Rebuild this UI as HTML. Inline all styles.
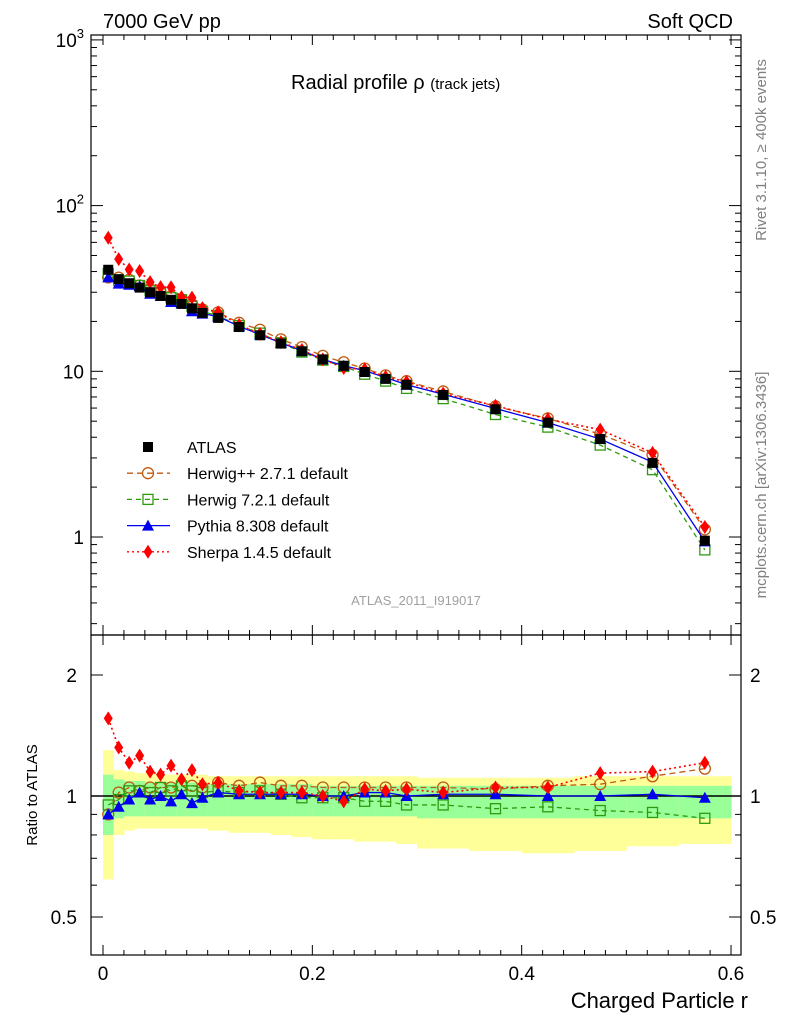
<!DOCTYPE html>
<html><head><meta charset="utf-8"><style>
body{margin:0;background:#fff}
svg{display:block;font-family:"Liberation Sans",sans-serif}
</style></head><body>
<svg id="c" width="786" height="1024" viewBox="0 0 786 1024"></svg>
<script>
const edges=[0,0.01,0.02,0.03,0.04,0.05,0.06,0.07,0.08,0.09,0.1,0.12,0.14,0.16,0.18,0.2,0.22,0.24,0.26,0.28,0.3,0.35,0.4,0.45,0.5,0.55,0.6];
const atlas=[41,36,34,32,30,28.5,27,25.5,24,22.5,21,18.5,16.5,14.7,13.2,11.8,10.8,9.9,9.0,8.3,7.2,5.9,4.9,3.9,2.8,0.95];
const rHerwigpp=[0.90,1.02,1.05,1.03,1.05,1.05,1.05,1.06,1.06,1.05,1.08,1.06,1.08,1.06,1.06,1.05,1.05,1.05,1.05,1.05,1.05,1.04,1.06,1.07,1.12,1.17];
const rHerwig7=[0.95,0.98,1.03,1.03,1.02,1.05,1.03,1.06,1.03,1.02,1.03,1.02,1.03,1.01,0.99,0.99,0.99,0.97,0.97,0.95,0.95,0.93,0.94,0.92,0.91,0.88];
const rPythia=[0.90,0.94,0.98,1.02,0.98,1.0,0.97,1.01,0.96,0.99,1.02,1.01,1.01,1.01,1.01,1.0,1.0,1.02,1.02,1.0,1.01,1.01,1.0,1.0,1.01,0.99];
const rSherpa=[1.56,1.32,1.21,1.26,1.15,1.13,1.19,1.10,1.16,1.07,1.08,1.03,1.02,1.02,1.02,1.0,0.97,1.04,1.03,1.04,1.02,1.05,1.05,1.14,1.15,1.21];
const greenHi=[1.13,1.10,1.09,1.09,1.08,1.08,1.08,1.08,1.08,1.08,1.07,1.07,1.07,1.07,1.07,1.06,1.06,1.06,1.06,1.06,1.06,1.06,1.06,1.06,1.06,1.06];
const greenLo=[0.80,0.88,0.89,0.89,0.89,0.89,0.89,0.89,0.89,0.89,0.89,0.89,0.89,0.89,0.89,0.89,0.89,0.89,0.89,0.89,0.88,0.88,0.88,0.88,0.88,0.88];
const yellowHi=[1.30,1.16,1.15,1.14,1.14,1.13,1.13,1.13,1.13,1.13,1.12,1.12,1.12,1.12,1.12,1.12,1.12,1.12,1.12,1.12,1.11,1.11,1.11,1.12,1.12,1.12];
const yellowLo=[0.62,0.80,0.82,0.83,0.83,0.83,0.83,0.83,0.83,0.83,0.82,0.81,0.81,0.80,0.79,0.78,0.78,0.77,0.77,0.76,0.74,0.73,0.72,0.73,0.75,0.76];
const xTicks=[0,0.2,0.4,0.6];
const xTickLabels=["0","0.2","0.4","0.6"];

const NS="http://www.w3.org/2000/svg";
const svg=document.getElementById('c');
function el(t,a,p){const e=document.createElementNS(NS,t);for(const k in a)e.setAttribute(k,a[k]);(p||svg).appendChild(e);return e;}
const L=91,R=741,T=35,M=635,B=955;
const X=v=>103+v*1046.7;
const Y=v=>537-Math.log10(v)*165.7;
const YR=v=>796-Math.log2(v)*121;
const centers=edges.slice(0,-1).map((e,i)=>(e+edges[i+1])/2);

// bands
const bands=el('g',{});


centers.forEach((c,i)=>{
  const x0=X(edges[i]),x1=X(edges[i+1]);
  const y=el('rect',{x:x0,y:YR(yellowHi[i]),width:x1-x0+0.5,height:YR(yellowLo[i])-YR(yellowHi[i]),fill:'#ffff99'},bands);
  
  
  const g=el('rect',{x:x0,y:YR(greenHi[i]),width:x1-x0+0.5,height:YR(greenLo[i])-YR(greenHi[i]),fill:'#99ff99'},bands);
  
  
});
const one=el('line',{x1:L,x2:R,y1:YR(1),y2:YR(1),stroke:'#000','stroke-width':1.5});



// frames
[[T,M],[M,B]].forEach(([a,b],k)=>{
  const f=el('rect',{x:L,y:a,width:R-L,height:b-a,fill:'none',stroke:'#000','stroke-width':1.2});
  
  
});
// x ticks
[[M,'main'],[B,'ratio']].forEach(([yb,n])=>{
  for(let v=0;v<=0.6001;v+=0.02){
    const maj=Math.abs(v*10-Math.round(v*10))<1e-6&&Math.round(v*10)%2==0;
    const len=maj?10:5;
    el('line',{x1:X(v),x2:X(v),y1:yb,y2:yb-len,stroke:'#000'});
    el('line',{x1:X(v),x2:X(v),y1:yb==M?T:M,y2:(yb==M?T:M)+len,stroke:'#000'});
  }
});
xTicks.forEach((v,i)=>{
  const t=el('text',{x:X(v),y:980,'font-size':19,'text-anchor':'middle'});t.textContent=xTickLabels[i];
  
  
});
// log y ticks main
for(let d=-1;d<3;d++)for(let m=1;m<10;m++){
  const v=m*Math.pow(10,d);const y=Y(v);if(y<T||y>M)continue;
  const len=m==1?12:6;
  el('line',{x1:L,x2:L+len,y1:y,y2:y,stroke:'#000'});
  el('line',{x1:R,x2:R-len,y1:y,y2:y,stroke:'#000'});
}
el('line',{x1:L,x2:L+12,y1:Y(1000),y2:Y(1000),stroke:'#000'});
el('line',{x1:R,x2:R-12,y1:Y(1000),y2:Y(1000),stroke:'#000'});
[['1',1],['10',10]].forEach(([s,v])=>{
  const t=el('text',{x:84,y:Y(v)+7,'font-size':19,'text-anchor':'end'});t.textContent=s;
  
  
});
[['2',100],['3',1000]].forEach(([s,v])=>{
  const t=el('text',{x:84,y:Y(v)+7,'font-size':19,'text-anchor':'end'});
  t.innerHTML='10<tspan dy="-9" font-size="13">'+s+'</tspan>';
  
  
});
// ratio ticks
[0.4,0.5,0.6,0.7,0.8,0.9,1,2].forEach(v=>{
  const y=YR(v);if(y<M||y>B)return;
  const maj=(v==0.5||v==1||v==2);const len=maj?12:6;
  el('line',{x1:L,x2:L+len,y1:y,y2:y,stroke:'#000'});
  el('line',{x1:R,x2:R-len,y1:y,y2:y,stroke:'#000'});
});
[1.1,1.2,1.3,1.4,1.5,1.6,1.7,1.8,1.9].forEach(v=>{});
[['2',2],['1',1],['0.5',0.5]].forEach(([s,v])=>{
  const a=el('text',{x:77,y:YR(v)+7,'font-size':19,'text-anchor':'end'});a.textContent=s;
  
  
  const b=el('text',{x:750,y:YR(v)+7,'font-size':19});b.textContent=s;
  
  
});

// markers
function marker(g,type,x,y,col){
  if(type=='sq')el('rect',{x:x-5,y:y-5,width:10,height:10,fill:'#000'},g);
  else if(type=='osq')el('rect',{x:x-5,y:y-5,width:10,height:10,fill:'none',stroke:col,'stroke-width':1.3},g);
  else if(type=='circ')el('circle',{cx:x,cy:y,r:5.5,fill:'none',stroke:col,'stroke-width':1.3},g);
  else if(type=='tri')el('polygon',{points:`${x},${y-6} ${x-6},${y+5} ${x+6},${y+5}`,fill:col},g);
  else if(type=='dia')el('polygon',{points:`${x},${y-7} ${x-4.5},${y} ${x},${y+7} ${x+4.5},${y}`,fill:col},g);
}
const series=[
 {name:'herwigpp',r:rHerwigpp,col:'#c05a10',dash:'6,4',m:'circ',w:1.3},
 {name:'herwig7',r:rHerwig7,col:'#2e9a10',dash:'5,4',m:'osq',w:1.3},
 {name:'pythia',r:rPythia,col:'#0000ee',dash:'',m:'tri',w:1.3},
 {name:'sherpa',r:rSherpa,col:'#ff0000',dash:'2,3',m:'dia',w:1.6}
];
series.forEach(s=>{
  const g=el('g',{});
  
  
  const pm=centers.map((c,i)=>X(c)+','+Y(atlas[i]*s.r[i])).join(' ');
  el('polyline',{points:pm,fill:'none',stroke:s.col,'stroke-width':s.w,'stroke-dasharray':s.dash},g);
  const pr=centers.map((c,i)=>X(c)+','+YR(s.r[i])).join(' ');
  el('polyline',{points:pr,fill:'none',stroke:s.col,'stroke-width':s.w,'stroke-dasharray':s.dash},g);
  centers.forEach((c,i)=>{marker(g,s.m,X(c),Y(atlas[i]*s.r[i]),s.col);marker(g,s.m,X(c),YR(s.r[i]),s.col);});
});
const ga=el('g',{});


centers.forEach((c,i)=>marker(ga,'sq',X(c),Y(atlas[i]),'#000'));

// legend
const leg=[['ATLAS','sq','#000',''],['Herwig++ 2.7.1 default','circ','#c05a10','6,4'],['Herwig 7.2.1 default','osq','#2e9a10','5,4'],['Pythia 8.308 default','tri','#0000ee',''],['Sherpa 1.4.5 default','dia','#ff0000','2,3']];
leg.forEach((l,i)=>{
  const y=447+i*26.2;
  const g=el('g',{});
  
  
  if(i>0)el('line',{x1:127,x2:170,y1:y,y2:y,stroke:l[2],'stroke-width':1.3,'stroke-dasharray':l[3]},g);
  marker(g,l[1],148,y,l[2]);
  const t=el('text',{x:187,y:y+6,'font-size':16},g);t.textContent=l[0];
});
function txt(s,a,name){const t=el('text',a);t.textContent=s;return t;}
txt('7000 GeV pp',{x:103,y:28,'font-size':20},'energy-label');
txt('Soft QCD',{x:733,y:28,'font-size':20,'text-anchor':'end'},'process-label');
const ti=el('text',{x:291,y:89,'font-size':20});
ti.innerHTML='Radial profile ρ <tspan font-size="15">(track jets)</tspan>';


txt('ATLAS_2011_I919017',{x:416,y:605,'font-size':13,fill:'#a0a0a0','text-anchor':'middle'},'analysis-id');
txt('Rivet 3.1.10, ≥ 400k events',{x:0,y:0,'font-size':15,fill:'#808080','text-anchor':'middle',transform:'translate(766,150) rotate(-90)'},'rivet-label');
txt('mcplots.cern.ch [arXiv:1306.3436]',{x:0,y:0,'font-size':15,fill:'#808080','text-anchor':'middle',transform:'translate(766,485) rotate(-90)'},'mcplots-label');
txt('Ratio to ATLAS',{x:0,y:0,'font-size':15,'text-anchor':'middle',transform:'translate(37,795) rotate(-90)'},'y-axis-title');
txt('Charged Particle r',{x:748,y:1008,'font-size':22,'text-anchor':'end'},'x-axis-title');
</script>
</body></html>
